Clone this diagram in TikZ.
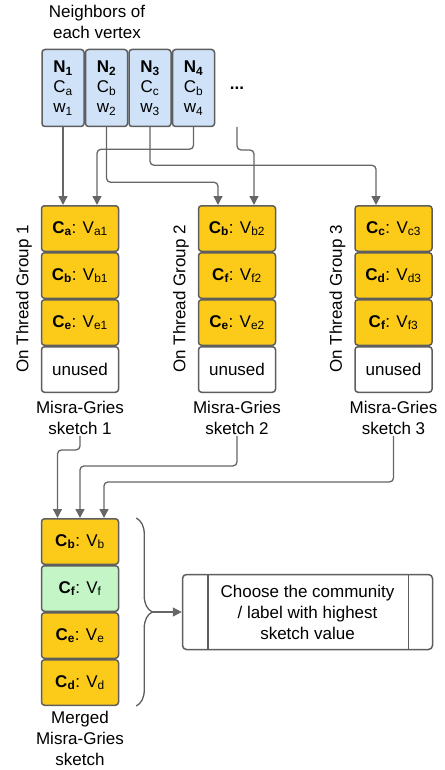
\documentclass[tikz,border=0pt]{standalone}
\usepackage{fontspec}
\setmainfont{Liberation Sans}
\usetikzlibrary{arrows.meta, decorations.pathreplacing, positioning}

\definecolor{nblue}{HTML}{CFE2F7}
\definecolor{skyellow}{HTML}{FCCB1A}
\definecolor{mgreen}{HTML}{C3F5C7}
\definecolor{edgegray}{HTML}{5E5E5E}
\definecolor{arrgray}{HTML}{666666}

% community : value entry of a sketch
\newcommand{\cv}[2]{\textbf{C\textsubscript{#1}}: V\textsubscript{#2}}

\begin{document}
\begin{tikzpicture}[x=1pt,y=-1pt,
		every node/.style={font=\fontsize{17}{21}\selectfont},
		nbox/.style={draw=edgegray,line width=1.5pt,rounded corners=3pt,fill=nblue,
			minimum width=42,minimum height=77,inner sep=0pt,align=center,
			font=\fontsize{17}{20}\selectfont},
		skbox/.style={draw=edgegray,line width=1.5pt,rounded corners=3pt,fill=skyellow,
			minimum width=77,minimum height=45.5,inner sep=0pt},
		lbl/.style={align=center,inner sep=1pt},
		arr/.style={draw=arrgray,line width=1.3pt,rounded corners=4pt,
			-{Triangle[width=9pt,length=9pt]}}]
	
	\useasboundingbox (0,0) rectangle (444,770);
	
	% Parameters
	\def\ytop{228.5}    % centre of first sketch row
	\def\dy{47}         % row pitch
	
	% Neighbors of the vertex
	\node[lbl] (title) at (97,22) {Neighbors of\\each vertex};
	\foreach \i/\c in {1/a,2/b,3/c,4/b} {
		\node[nbox] (n\i) at ({63+43.5*(\i-1)},88) {\textbf{N\textsubscript{\i}}\\C\textsubscript{\c}\\w\textsubscript{\i}};
	}
	\node (more) at (237,88.5) {\textbf{...}};
	\coordinate (morefoot) at (237,127);
	
	% Misra-Gries sketches, one per thread group
	\foreach \g/\x/\pa/\pb/\pc in {1/80/a/b/e, 2/237/b/f/e, 3/393.5/c/d/f} {
		\node[skbox] (s\g-1) at (\x,\ytop) {\cv{\pa}{\pa\g}};
		\node[skbox] (s\g-2) at (\x,{\ytop+\dy}) {\cv{\pb}{\pb\g}};
		\node[skbox] (s\g-3) at (\x,{\ytop+2*\dy}) {\cv{\pc}{\pc\g}};
		\node[skbox,fill=white] (s\g-4) at (\x,{\ytop+3*\dy}) {unused};
		\node[rotate=90,inner sep=0pt] (tg\g) at ({\x-56},299) {On Thread Group \g};
		\node[lbl] (ms\g) at (\x,418) {Misra-Gries\\sketch \g};
	}
	
	% Neighbors to sketches
	\draw[arr] (n1.south) -- (n1.south |- s1-1.north);
	\draw[arr] (n2.south) -- ++(0,55) -| ([xshift=-19pt]s2-1.north);
	\draw[arr] (n3.south) -- ++(0,38) -| ([xshift=-17.5pt]s3-1.north);
	\draw[arr] (n4.south) -- ++(0,22) -| ([xshift=17pt]s1-1.north);
	\draw[arr] (morefoot) -- ++(0,23) -| ([xshift=17pt]s2-1.north);
	
	% Merged sketch
	\node[skbox] (m1) at (80,541.5) {\cv{b}{b}};
	\node[skbox,fill=mgreen] (m2) at (80,588.5) {\cv{f}{f}};
	\node[skbox] (m3) at (80,635.5) {\cv{e}{e}};
	\node[skbox] (m4) at (80,682.5) {\cv{d}{d}};
	\node[lbl] (mlbl) at (80,738) {Merged\\Misra-Gries\\sketch};
	
	% Sketches to merged sketch
	\draw[arr] (ms1.south) -- ++(0,14) -| ([xshift=-22.5pt]m1.north);
	\draw[arr] (ms2.south) -- ++(0,30) -| (m1.north);
	\draw[arr] (ms3.south) -- ++(0,46) -| ([xshift=24pt]m1.north);
	
	% Brace and final step
	\draw[edgegray,line width=1.3pt,decorate,decoration={brace,amplitude=16pt}]
	([xshift=17pt]m1.north east) -- ([xshift=17pt]m4.south east);
	\coordinate (tip) at ([xshift=33pt]m2.south east);
	\node[draw=edgegray,line width=1.5pt,rounded corners=4pt,minimum width=250,
		minimum height=75,align=center,inner sep=0pt] (choose) at (307.5,612)
		{Choose the community\\/ label with highest\\sketch value};
	\draw[edgegray,line width=1.5pt] ([xshift=26pt]choose.north west) -- ([xshift=26pt]choose.south west);
	\draw[edgegray,line width=1.5pt] ([xshift=-25pt]choose.north east) -- ([xshift=-25pt]choose.south east);
	\draw[arr] (tip) -- (choose.west);
	
\end{tikzpicture}
\end{document}
